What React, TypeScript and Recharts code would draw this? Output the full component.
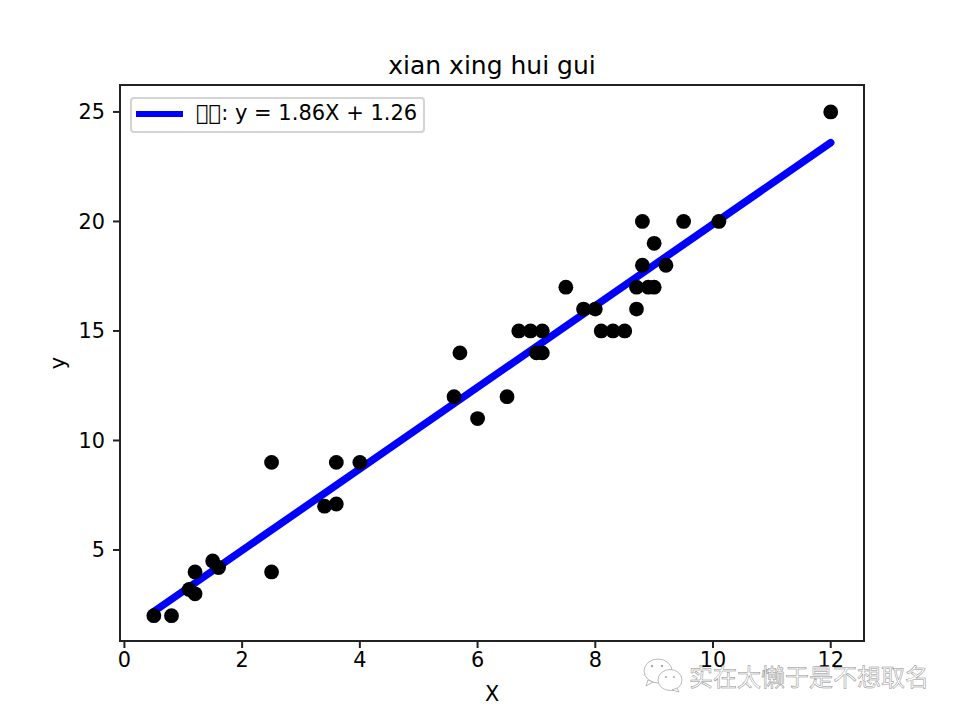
import {
  ComposedChart,
  Line,
  ReferenceArea,
  Scatter,
  XAxis,
  YAxis,
} from "recharts";

const xTicks = [0, 2, 4, 6, 8, 10, 12];
const yTicks = [5, 10, 15, 20, 25];
const xDomain = [-0.075, 12.565];
const yDomain = [0.845, 26.23];

const sampleX = [
  0.5, 0.8, 1.1, 1.2, 1.2, 1.5, 1.6, 2.5, 2.5, 3.4, 3.6, 3.6, 4, 5.6, 5.7, 6, 6.5, 6.7, 6.9, 7,
  7.1, 7.1, 7.5, 7.8, 8, 8.1, 8.3, 8.5, 8.7, 8.7, 8.8, 8.8, 8.9, 9, 9, 9.2, 9.5, 10.1, 12,
];
const sampleY = [
  2, 2, 3.2, 4, 3, 4.5, 4.2, 9, 4, 7, 9, 7.1, 9, 12, 14, 11, 12, 15, 15, 14,
  15, 14, 17, 16, 16, 15, 15, 15, 17, 16, 18, 20, 17, 17, 19, 18, 20, 20, 25,
];
const fitX = [0.5, 12];
const fitY = [2.19, 23.6];

const samples = sampleX.map((x, i) => ({ x, y: sampleY[i] }));
const fit = fitX.map((x, i) => ({ x, y: fitY[i] }));

const font = "'DejaVu Sans', sans-serif";
const ink = "#222";
const tick = { fontSize: 20.8, fill: "#000", fontFamily: font };
const tickLine = { stroke: ink, strokeWidth: 2 };

function Dot({ cx, cy }: { cx?: number; cy?: number }) {
  return <circle cx={cx} cy={cy} r={7.4} fill="#000" />;
}

function Watermark() {
  return (
    <svg width={960} height={720} style={{ position: "absolute", left: 0, top: 0, pointerEvents: "none" }}>
      <g fill="#fff" stroke="#aaa" strokeWidth={0.8}>
        <ellipse cx={658} cy={671} rx={14} ry={12} />
        <path d="M648 680 L646 686 L653 682 Z" />
        <ellipse cx={670} cy={680} rx={12} ry={10.5} />
        <path d="M677 688 L679 692 L672 690 Z" />
      </g>
      <g fill="#aaa">
        <circle cx={652} cy={666} r={1.2} />
        <circle cx={662} cy={666} r={1.2} />
        <circle cx={666} cy={677} r={1.1} />
        <circle cx={674} cy={677} r={1.1} />
      </g>
      <text
        x={689}
        y={686}
        fontSize={24}
        fontFamily="'Noto Sans CJK SC', sans-serif"
        fill="#fff"
        stroke="#8a8a8a"
        strokeWidth={0.5}
      >
        实在太懒于是不想取名
      </text>
    </svg>
  );
}

function FitLegend() {
  return (
    <div
      style={{
        position: "absolute",
        left: 130,
        top: 97,
        width: 295,
        height: 36,
        boxSizing: "border-box",
        border: "2px solid #d4d4d4",
        borderRadius: 4,
        background: "rgba(255,255,255,0.8)",
        fontFamily: font,
        fontSize: 21,
        lineHeight: "24px",
        color: "#000",
      }}
    >
      <div style={{ position: "absolute", left: 4, top: 12, width: 47, height: 6, background: "#0000ff" }} />
      <div style={{ position: "absolute", left: 64, top: 2, whiteSpace: "nowrap" }}>{"\uE000\uE001"}: y = 1.86X + 1.26</div>
    </div>
  );
}

export default function App() {
  return (
    <div style={{ position: "absolute", left: 0, top: 0, width: 960, height: 720, background: "#fff" }}>
      <ComposedChart width={960} height={720} margin={{ top: 85, right: 96, bottom: 0, left: 0 }}>
        <text x={492} y={74} textAnchor="middle" fontSize={25} fontFamily={font} fill="#000">
          xian xing hui gui
        </text>
        <XAxis
          type="number"
          dataKey="x"
          domain={xDomain}
          ticks={xTicks}
          allowDataOverflow
          height={79}
          tick={tick}
          tickSize={7}
          tickMargin={4}
          axisLine={false}
          tickLine={tickLine}
          label={{ value: "X", position: "insideBottom", offset: 19, style: tick }}
        />
        <YAxis
          type="number"
          dataKey="y"
          domain={yDomain}
          ticks={yTicks}
          allowDataOverflow
          width={120}
          tick={tick}
          tickSize={7}
          tickMargin={8}
          axisLine={false}
          tickLine={tickLine}
          label={{ value: "y", angle: -90, position: "insideLeft", offset: 58, style: { ...tick, textAnchor: "middle" } }}
        />
        <Scatter data={samples} dataKey="y" shape={<Dot />} isAnimationActive={false} />
        <Line
          data={fit}
          dataKey="y"
          type="linear"
          stroke="#0000ff"
          strokeWidth={7.5}
          strokeLinecap="round"
          dot={false}
          activeDot={false}
          isAnimationActive={false}
        />
        <ReferenceArea
          x1={xDomain[0]}
          x2={xDomain[1]}
          y1={yDomain[0]}
          y2={yDomain[1]}
          fill="none"
          stroke={ink}
          strokeWidth={2}
          ifOverflow="visible"
        />
      </ComposedChart>
      <FitLegend />
      <Watermark />
    </div>
  );
}
